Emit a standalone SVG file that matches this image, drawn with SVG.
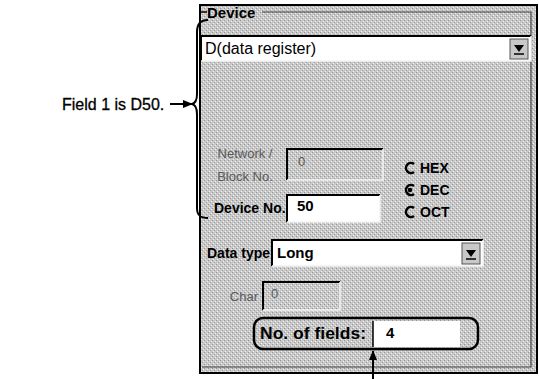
<svg xmlns="http://www.w3.org/2000/svg" width="539" height="379" viewBox="0 0 539 379">
  <defs>
    <pattern id="dither" width="4" height="4" patternUnits="userSpaceOnUse">
      <rect width="4" height="4" fill="#c8c8c8"/>
      <rect x="0" y="0" width="1" height="1" fill="#969696"/>
      <rect x="2" y="2" width="1" height="1" fill="#a0a0a0"/>
      <rect x="1" y="3" width="1" height="1" fill="#efefef"/>
      <rect x="3" y="1" width="1" height="1" fill="#efefef"/>
    </pattern>
    <marker id="ah" markerWidth="10" markerHeight="8" refX="9" refY="4" orient="auto" markerUnits="userSpaceOnUse">
      <path d="M0,0 L10,4 L0,8 Z" fill="#000"/>
    </marker>
    <style>
      .lbl { font-family: "Liberation Sans", Arial, sans-serif; font-weight: bold; font-size: 14px; fill: #000; }
      .val { font-family: "Liberation Sans", Arial, sans-serif; font-weight: bold; font-size: 15px; fill: #000; }
      .dis { font-family: "Liberation Sans", Arial, sans-serif; font-size: 13px; fill: #5a5a5a; }
      .note { font-family: "Liberation Sans", Arial, sans-serif; font-size: 16px; fill: #000; stroke: #000; stroke-width: 0.3; }
      .sunk { stroke: #000; stroke-width: 2; fill: none; }
      .hi { stroke: #f4f4f4; stroke-width: 1.5; fill: none; }
      .btn { fill: #c8c8c8; stroke: #555; stroke-width: 1; }
      .conn { stroke: #000; stroke-width: 2; fill: none; }
    </style>
  </defs>

  <g id="panel">
    <rect x="200" y="5" width="337" height="368" fill="url(#dither)" stroke="#000" stroke-width="2"/>
    <path d="M262,12 H531 V367 H202" stroke="#444" stroke-width="1.2" fill="none"/>
    <path d="M201,12 H207" stroke="#000" stroke-width="1.5"/>
    <text class="lbl" x="207" y="18" style="font-size:15px">Device</text>
  </g>

  <g id="device-combo">
    <rect x="201" y="36" width="330" height="25" fill="#fff"/>
    <path d="M201,61 V36 H531" class="sunk"/>
    <path d="M201,61 H531 V36" class="hi"/>
    <rect x="510" y="39" width="18" height="20" class="btn"/>
    <path d="M514,45 L524,45 L519,52 Z" fill="#000"/>
    <path d="M514,54 H524" stroke="#000" stroke-width="1.5"/>
    <text x="205" y="54" style="font-family:'Liberation Sans',Arial,sans-serif;font-size:16px;fill:#000">D(data register)</text>
  </g>

  <g id="network-block">
    <text class="dis" x="245" y="158" text-anchor="middle">Network /</text>
    <text class="dis" x="245" y="181" text-anchor="middle">Block No.</text>
    <path d="M287,180 V149 H383" class="sunk"/>
    <path d="M287,180 H383 V149" class="hi"/>
    <text class="dis" x="298" y="166">0</text>
  </g>

  <g id="device-no">
    <text class="lbl" x="214" y="213">Device No.</text>
    <rect x="287" y="195" width="93" height="27" fill="#fff"/>
    <path d="M287,222 V195 H380" class="sunk"/>
    <path d="M287,222 H380 V195" class="hi"/>
    <text class="val" x="297" y="211">50</text>
  </g>

  <g id="radix">
    <path d="M414,164 A5,5 0 1 0 414,172" stroke="#000" stroke-width="2.5" fill="none"/>
    <text class="lbl" x="420" y="173">HEX</text>
    <path d="M414,186 A5,5 0 1 0 414,194" stroke="#000" stroke-width="2.5" fill="none"/>
    <circle cx="410" cy="190" r="2.3" fill="#000"/>
    <text class="lbl" x="420" y="195">DEC</text>
    <path d="M414,208 A5,5 0 1 0 414,216" stroke="#000" stroke-width="2.5" fill="none"/>
    <text class="lbl" x="420" y="217">OCT</text>
  </g>

  <g id="data-type">
    <text class="lbl" x="207" y="258">Data type</text>
    <rect x="272" y="240" width="211" height="26" fill="#fff"/>
    <path d="M272,266 V240 H483" class="sunk"/>
    <path d="M272,266 H483 V240" class="hi"/>
    <rect x="462" y="243" width="18" height="21" class="btn"/>
    <path d="M466,250 L476,250 L471,257 Z" fill="#000"/>
    <path d="M466,259 H476" stroke="#000" stroke-width="1.5"/>
    <text class="val" x="277" y="258">Long</text>
  </g>

  <g id="char">
    <text class="dis" x="258" y="301" text-anchor="end">Char</text>
    <path d="M263,310 V282 H340" class="sunk"/>
    <path d="M263,310 H340 V282" class="hi"/>
    <text class="dis" x="271" y="298">0</text>
  </g>

  <g id="fields">
    <rect x="373" y="321" width="87" height="26" fill="#fff"/>
    <path d="M373,347 V321" stroke="#000" stroke-width="1.5"/>
    <rect x="254" y="318" width="224" height="31" rx="9" fill="none" stroke="#000" stroke-width="2.5"/>
    <text class="lbl" x="260" y="339" style="font-size:16px" textLength="106" lengthAdjust="spacingAndGlyphs">No. of fields:</text>
    <text class="val" x="386" y="338">4</text>
  </g>

  <g id="field1-note">
    <text class="note" x="62" y="110">Field 1 is D50.</text>
    <path d="M208,20 C200,20 197,24 197,32 V94 C197,100 196,103 192,104 C196,105 197,108 197,114 V208 C197,215 200,218 208,218" stroke="#000" stroke-width="2" fill="none"/>
  </g>

  <g id="connectors">
    <path d="M170,104 H192" class="conn" marker-end="url(#ah)"/>
    <path d="M373,379 V351" class="conn" marker-end="url(#ah)"/>
  </g>
</svg>
